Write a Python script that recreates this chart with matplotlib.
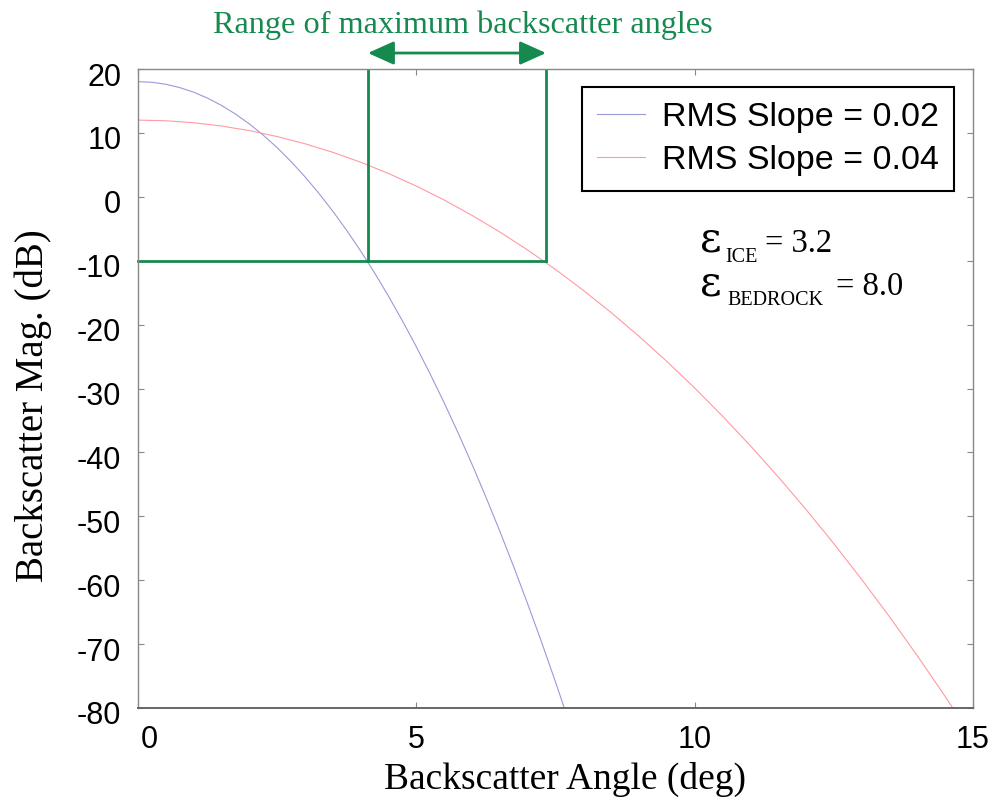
import matplotlib
matplotlib.use("Agg")
import matplotlib.pyplot as plt
from matplotlib.transforms import ScaledTranslation

# Backscatter angle (deg) and magnitude (dB) for the two RMS slopes
angle_s002 = [0.0, 0.25, 0.5, 0.75, 1.0, 1.25, 1.5, 1.75, 2.0, 2.25, 2.5, 2.75,
              3.0, 3.25, 3.5, 3.75, 4.0, 4.25, 4.5, 4.75, 5.0, 5.25, 5.5, 5.75,
              6.0, 6.25, 6.5, 6.75, 7.0, 7.25, 7.5, 7.75]
mag_s002 = [18.02, 17.92, 17.61, 17.09, 16.37, 15.44, 14.30, 12.96, 11.41, 9.65,
            7.69, 5.51, 3.13, 0.54, -2.26, -5.27, -8.48, -11.91, -15.55, -19.41,
            -23.47, -27.75, -32.24, -36.94, -41.86, -46.99, -52.34, -57.91,
            -63.70, -69.70, -75.93, -82.37]

angle_s004 = [0.0, 0.5, 1.0, 1.5, 2.0, 2.5, 3.0, 3.5, 4.0, 4.5, 5.0, 5.5, 6.0,
              6.5, 7.0, 7.5, 8.0, 8.5, 9.0, 9.5, 10.0, 10.5, 11.0, 11.5, 12.0,
              12.5, 13.0, 13.5, 14.0, 14.5, 15.0]
mag_s004 = [12.00, 11.90, 11.59, 11.08, 10.36, 9.43, 8.30, 6.96, 5.41, 3.65,
            1.68, -0.50, -2.90, -5.51, -8.33, -11.37, -14.64, -18.12, -21.83,
            -25.76, -29.93, -34.32, -38.95, -43.82, -48.93, -54.28, -59.88,
            -65.72, -71.83, -78.19, -84.82]

series_labels = ["RMS Slope = 0.02", "RMS Slope = 0.04"]

x_ticks = [0, 5, 10, 15]
y_ticks = [20, 10, 0, -10, -20, -30, -40, -50, -60, -70, -80]

# Range of angles where the backscatter stays above the threshold
threshold_db = -10
range_lo, range_hi = 4.13, 7.33

# Permittivities quoted on the plot
eps_rows = [("ICE", "3.2"), ("BEDROCK", "8.0")]

green = "#16894f"
blue = "#9a9ad8"
red = "#ff9aa2"

W, H = 999, 801
fig = plt.figure(figsize=(W / 100, H / 100), dpi=100)
ax = fig.add_axes([138 / W, 1 - 708 / H, 835 / W, 639 / H])


def px(x, y):
    """Pixel position (from top-left) to figure fraction."""
    return x / W, 1 - y / H


ax.plot(angle_s002, mag_s002, color=blue, lw=0.8, label=series_labels[0])
ax.plot(angle_s004, mag_s004, color=red, lw=0.8, label=series_labels[1])

ax.set_xlim(0, 15)
ax.set_ylim(-80, 20)
ax.set_xticks(x_ticks)
ax.set_yticks(y_ticks)
ax.set_xticklabels([str(v) for v in x_ticks], family="Liberation Sans", fontsize=22)
ax.set_yticklabels([str(v) for v in y_ticks], family="Liberation Sans", fontsize=22)
ax.tick_params(direction="in", length=4.5, width=0.8, color="#888888",
               top=True, right=True)
ax.tick_params(axis="x", pad=12)
ax.tick_params(axis="y", pad=12)

# Nudge tick labels: the zero label sits clear of the corner, y labels a touch low
zero_lbl = ax.get_xticklabels()[0]
zero_lbl.set_transform(zero_lbl.get_transform() +
                       ScaledTranslation(0.11, 0, fig.dpi_scale_trans))
for lbl in ax.get_yticklabels():
    lbl.set_transform(lbl.get_transform() +
                      ScaledTranslation(0, -0.05, fig.dpi_scale_trans))

for side in ["left", "top", "right"]:
    ax.spines[side].set_color("#888888")
    ax.spines[side].set_linewidth(1.0)
ax.spines["bottom"].set_color("#666666")
ax.spines["bottom"].set_linewidth(1.4)

ax.set_xlabel("Backscatter Angle (deg)", family="Liberation Serif", fontsize=27,
              va="baseline", ha="center")
ax.xaxis.set_label_coords((565.5 - 138) / 835, (708 - 789) / 639)
ax.set_ylabel("Backscatter Mag. (dB)", family="Liberation Serif", fontsize=28,
              va="center", ha="center")
ax.yaxis.set_label_coords((33 - 138) / 835, (708 - 406) / 639)

# Threshold marker and the angle window it selects
ax.plot([0, range_hi], [threshold_db, threshold_db], color=green, lw=2.0, clip_on=False)
ax.plot([range_lo, range_lo], [threshold_db, 20], color=green, lw=2.0)
ax.plot([range_hi, range_hi], [threshold_db, 20], color=green, lw=2.0)
ax.annotate("", xy=(range_hi, 22.5), xytext=(range_lo, 22.5),
            arrowprops=dict(arrowstyle="<|-|>,head_length=1.0,head_width=0.45",
                            mutation_scale=16, lw=2.0, color=green,
                            shrinkA=0, shrinkB=0),
            annotation_clip=False)
fig.text(*px(463, 33), "Range of maximum backscatter angles",
         family="Liberation Serif", fontsize=23.2, color=green,
         ha="center", va="baseline")

leg = ax.legend(loc="upper right", bbox_to_anchor=((954 - 138) / 835, (708 - 87) / 639),
                borderaxespad=0, prop={"family": "Liberation Sans", "size": 24.5},
                handlelength=1.4, handletextpad=0.5, labelspacing=0.34,
                borderpad=0.45, fancybox=False, framealpha=1)
leg.get_frame().set_edgecolor("black")
leg.get_frame().set_linewidth(1.5)

# Permittivity annotations: large epsilon, small subscript, value
serif = "Liberation Serif"
row_base = [252, 295]
sub_x = [725, 727]
value_x = [765, 836]
for (sub, val), base, sx, vx in zip(eps_rows, row_base, sub_x, value_x):
    fig.text(*px(700, base), "ε", family="DejaVu Serif", fontsize=30,
             va="baseline", ha="left")
    fig.text(*px(sx, base + 10), sub, family=serif, fontsize=14.5,
             va="baseline", ha="left")
    fig.text(*px(vx, base), "= " + val, family=serif, fontsize=23.5,
             va="baseline", ha="left")

fig.savefig("out.png", dpi=100)
